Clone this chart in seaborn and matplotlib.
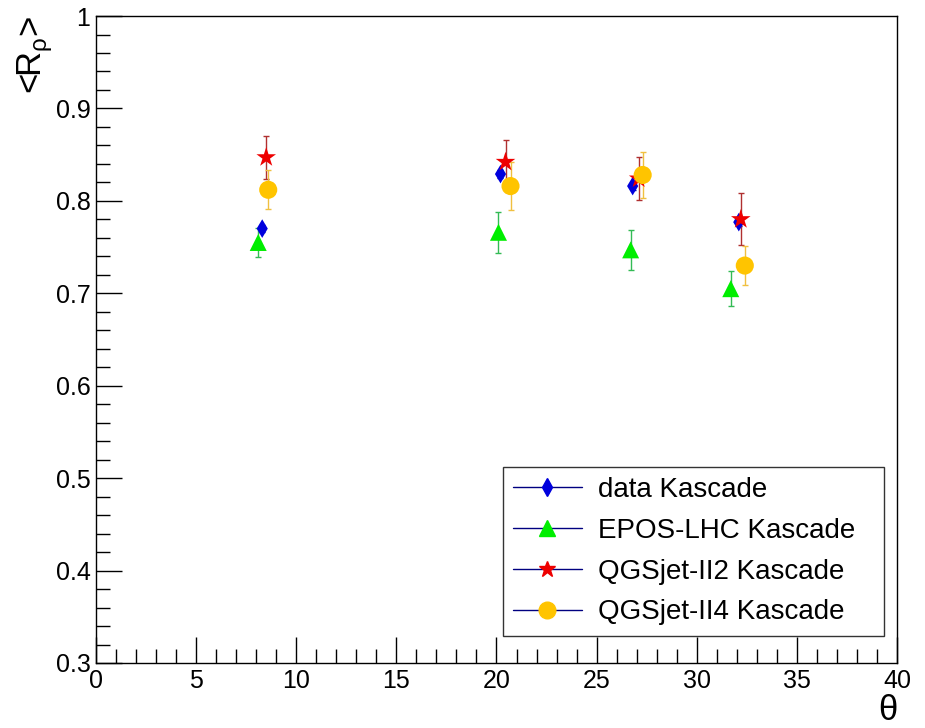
import numpy as np
import pandas as pd
import matplotlib
matplotlib.use("Agg")
import matplotlib.pyplot as plt
import seaborn as sns
from matplotlib.lines import Line2D
from matplotlib.ticker import MultipleLocator

sns.set_theme(style="white")
plt.rcParams['font.family'] = ['Liberation Sans', 'DejaVu Sans']

series = ["data Kascade", "EPOS-LHC Kascade", "QGSjet-II2 Kascade", "QGSjet-II4 Kascade"]

data_x = [8.3, 20.2, 26.8, 32.1]
data_y = [0.770, 0.829, 0.816, 0.777]
data_err = [0.004, 0.004, 0.004, 0.004]

epos_x = [8.1, 20.1, 26.7, 31.7]
epos_y = [0.755, 0.766, 0.747, 0.705]
epos_err = [0.016, 0.022, 0.022, 0.019]

qii2_x = [8.5, 20.45, 27.1, 32.2]
qii2_y = [0.847, 0.842, 0.824, 0.780]
qii2_err = [0.023, 0.024, 0.023, 0.028]

qii4_x = [8.6, 20.7, 27.3, 32.4]
qii4_y = [0.812, 0.816, 0.828, 0.730]
qii4_err = [0.021, 0.026, 0.025, 0.021]

frames = []
for name, xs, ys, es in zip(series, [data_x, epos_x, qii2_x, qii4_x],
                            [data_y, epos_y, qii2_y, qii4_y],
                            [data_err, epos_err, qii2_err, qii4_err]):
    frames.append(pd.DataFrame({"theta": xs, "R": ys, "err": es, "series": name}))
df = pd.concat(frames, ignore_index=True)

colors = {"data Kascade": "#0000dd", "EPOS-LHC Kascade": "#00ee00",
          "QGSjet-II2 Kascade": "#ee0000", "QGSjet-II4 Kascade": "#ffc400"}
ecolors = {"data Kascade": "#0000aa", "EPOS-LHC Kascade": "#33bb55",
           "QGSjet-II2 Kascade": "#b03030", "QGSjet-II4 Kascade": "#f0c040"}
markers = {"data Kascade": "d", "EPOS-LHC Kascade": "^",
           "QGSjet-II2 Kascade": "*", "QGSjet-II4 Kascade": "o"}
sizes = {"data Kascade": 90, "EPOS-LHC Kascade": 150,
         "QGSjet-II2 Kascade": 220, "QGSjet-II4 Kascade": 170}

fig = plt.figure(figsize=(9.25, 7.28), dpi=100)
ax = fig.add_axes([0.1038, 0.0893, 0.8659, 0.8887])

for name in series:
    sub = df[df.series == name]
    ax.errorbar(sub.theta, sub.R, yerr=sub.err, fmt="none", ecolor=ecolors[name],
                elinewidth=1.0, capsize=2.5, capthick=1.0, zorder=2)
    sns.scatterplot(data=sub, x="theta", y="R", marker=markers[name], s=sizes[name],
                    color=colors[name], edgecolor="none", linewidth=0, ax=ax,
                    legend=False, zorder=3)

ax.set_xlim(0, 40)
ax.set_ylim(0.3, 1.0)
ax.xaxis.set_minor_locator(MultipleLocator(1))
ax.yaxis.set_minor_locator(MultipleLocator(0.02))
ax.set_yticks(np.arange(0.3, 1.001, 0.1))
ax.set_yticklabels(["0.3", "0.4", "0.5", "0.6", "0.7", "0.8", "0.9", "1"])
ax.set_xticks(np.arange(0, 41, 5))
ax.set_xticklabels([str(v) for v in range(0, 41, 5)])
ax.tick_params(axis="both", which="major", direction="in", length=19, width=1,
               color="black", labelsize=18, labelcolor="black", pad=4,
               bottom=True, left=True)
ax.tick_params(axis="both", which="minor", direction="in", length=10, width=1,
               color="black", bottom=True, left=True)
for s in ax.spines.values():
    s.set_color("black")
    s.set_linewidth(1.0)

ax.set_xlabel("")
ax.set_ylabel("")
fig.text(0.970, 0.002, "θ", fontsize=25, ha="right", va="bottom", color="black")
fig.text(0.038, 0.978, r"<R$_{\mathregular{ρ}}$>", fontsize=25, rotation=90,
         ha="center", va="top", color="black")

handles = [Line2D([0, 1], [0, 0], color="#000080", lw=1.0, marker=markers[n],
                  markerfacecolor=colors[n], markeredgecolor=colors[n],
                  markersize={"data Kascade": 9, "EPOS-LHC Kascade": 11,
                              "QGSjet-II2 Kascade": 12, "QGSjet-II4 Kascade": 12}[n])
           for n in series]
leg = ax.legend(handles, series, loc="lower left", bbox_to_anchor=(0.508, 0.042, 0.476, 0.262),
                mode="expand", fontsize=20, frameon=True, fancybox=False, handlelength=2.45,
                borderpad=0.38, labelspacing=0.53, handletextpad=0.6, borderaxespad=0)
for t in leg.get_texts():
    t.set_color("black")
leg.get_frame().set_edgecolor("black")
leg.get_frame().set_linewidth(1.0)

fig.savefig("out.png", dpi=100)
